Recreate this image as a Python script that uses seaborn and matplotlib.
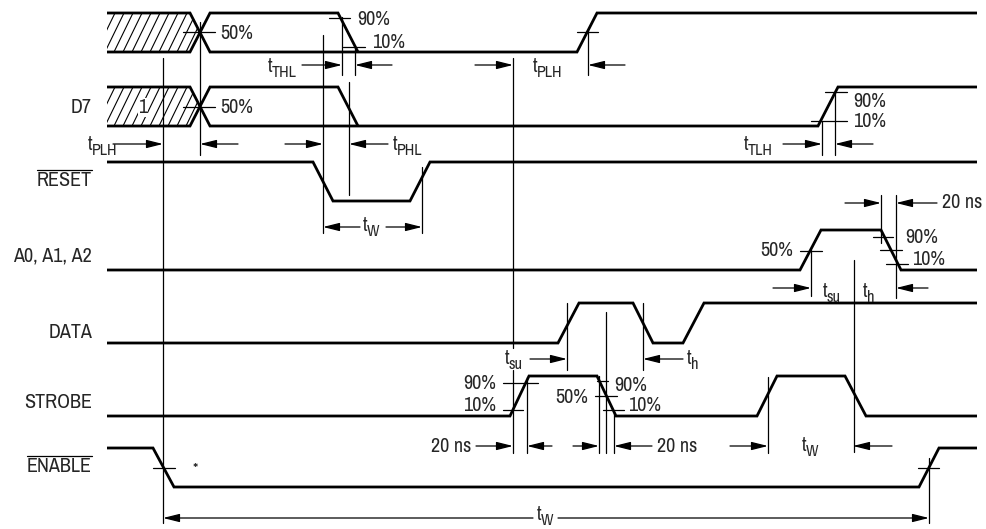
import numpy as np
import matplotlib
matplotlib.use("Agg")
import matplotlib.pyplot as plt
from matplotlib import font_manager
from matplotlib.patches import Polygon
import seaborn as sns

# waveform break points, x / y in sheet pixels (y grows downwards)
row1_a_x = [107, 190, 210, 577, 597, 977]
row1_a_y = [13, 13, 52, 52, 13, 13]
row1_b_x = [107, 190, 210, 338, 358]
row1_b_y = [52, 52, 13, 13, 52]
d7_a_x = [107, 190, 210, 818, 838, 977]
d7_a_y = [87, 87, 126, 126, 87, 87]
d7_b_x = [107, 190, 210, 338, 358]
d7_b_y = [126, 126, 87, 87, 126]
reset_x = [107, 313, 333, 410, 430, 977]
reset_y = [162, 162, 201, 201, 162, 162]
addr_x = [107, 800, 821, 881, 901, 977]
addr_y = [270, 270, 230, 230, 270, 270]
data_x = [107, 558, 579, 633, 653, 683, 704, 977]
data_y = [343, 343, 303, 303, 343, 343, 303, 303]
strobe_x = [107, 510, 529, 597, 616, 757, 777, 845, 866, 977]
strobe_y = [416, 416, 376, 376, 416, 416, 376, 376, 416, 416]
enable_x = [107, 153, 174, 919, 939, 977]
enable_y = [448, 448, 487, 487, 448, 448]

# signal names on the left
signal_labels = ["D7", "RESET", "A0, A1, A2", "DATA", "STROBE", "ENABLE"]
signal_base = [113, 186, 261, 338, 408, 472]
overlined = {"RESET": 170, "ENABLE": 456}

# don't-care (hatched) zones: top, bottom
hatch_top = [13, 87]
hatch_bot = [52, 126]

# thin vertical reference lines
guide_x = [163, 200, 323, 342, 355, 349, 422, 513, 588, 822, 835, 811,
           854, 881, 896, 567, 606, 643, 513, 527, 599, 614, 768, 929]
guide_y0 = [58, 22, 35, 17, 47, 82, 167, 58, 30, 121, 92, 250,
            260, 195, 195, 303, 312, 303, 370, 377, 376, 412, 377, 458]
guide_y1 = [523, 155, 233, 75, 75, 195, 233, 348, 75, 155, 155, 296,
            452, 243, 298, 370, 453, 370, 453, 453, 453, 453, 453, 523]

# level ticks (50%, 90%, 10%) on the edges
tick_y = [32, 107, 18, 47, 32, 92, 121, 251, 237, 250, 264,
          383, 410, 381, 396, 410, 468, 468]
tick_x0 = [183, 183, 329, 343, 577, 825, 811, 800, 873, 880, 886,
           503, 503, 597, 595, 603, 153, 918]
tick_x1 = [215, 215, 350, 365, 598, 847, 847, 822, 893, 902, 908,
           538, 523, 608, 617, 624, 175, 939]

# dimension arrows: tail, tip, row
arrow_tail = [302, 392, 475, 625, 113, 238, 285, 388, 783, 873, 360, 386,
              845, 937, 773, 928, 530, 683, 476, 552, 573, 652, 730, 892, 533, 558]
arrow_tip = [342, 355, 513, 588, 163, 200, 323, 349, 822, 835, 323, 422,
             881, 896, 811, 896, 567, 643, 513, 527, 599, 614, 768, 853, 163, 929]
arrow_y = [65, 65, 65, 65, 144, 144, 144, 144, 144, 144, 227, 227,
           203, 203, 288, 288, 359, 359, 446, 446, 446, 446, 446, 446, 518, 518]

# level / delay texts: text, x, baseline, alignment
note_text = ["50%", "50%", "90%", "10%", "90%", "10%", "20 ns", "90%", "10%", "50%",
             "90%", "10%", "50%", "90%", "10%", "20 ns", "20 ns", "*"]
note_x = [220, 220, 357, 372, 853, 853, 942, 905, 912, 793,
          496, 496, 588, 614, 628, 471, 657, 193]
note_y = [39, 113, 25, 48, 107, 127, 208, 243, 265, 256,
          389, 411, 403, 391, 411, 452, 452, 474]
note_ha = ["left", "left", "left", "left", "left", "left", "left", "left", "left", "right",
           "right", "right", "right", "left", "left", "right", "left", "left"]

# timing symbols t<sub>: subscript, left x of "t", baseline
tsym_sub = ["THL", "PLH", "PLH", "PHL", "TLH", "W", "su", "h", "su", "h", "W", "W"]
tsym_x = [268, 533, 88, 393, 744, 363, 823, 863, 505, 687, 802, 537]
tsym_y = [72, 72, 150, 150, 150, 231, 297, 297, 364, 364, 451, 520]

sns.set_theme(style="white")
installed = sorted({f.name for f in font_manager.fontManager.ttflist})
narrow = [n for n in installed if "Narrow" in n or "Condensed" in n]
if narrow:
    family, FS = narrow[0], 14.5
elif "Liberation Sans" in installed:
    family, FS = "Liberation Sans", 12.5
else:
    family, FS = "DejaVu Sans", 12
plt.rcParams["font.family"] = [family, "DejaVu Sans"]

fig = plt.figure(figsize=(9.87, 5.29), dpi=100)
ax = fig.add_axes([0, 0, 1, 1])
ax.set_xlim(0, 987)
ax.set_ylim(529, 0)
ax.axis("off")

THIN = 0.9
THICK = 2.0

waves = [(row1_a_x, row1_a_y), (row1_b_x, row1_b_y), (d7_a_x, d7_a_y), (d7_b_x, d7_b_y),
         (reset_x, reset_y), (addr_x, addr_y), (data_x, data_y), (strobe_x, strobe_y),
         (enable_x, enable_y)]
for wx, wy in waves:
    sns.lineplot(x=wx, y=wy, sort=False, estimator=None, color="black", lw=THICK, ax=ax,
                 solid_joinstyle="miter", solid_capstyle="butt", zorder=3)

# hatched don't-care regions
for top, bot in zip(hatch_top, hatch_bot):
    mid = (top + bot) / 2
    poly = Polygon([(107, top), (190, top), (200, mid), (190, bot), (107, bot)],
                   closed=True, facecolor="white", edgecolor="none", zorder=1)
    ax.add_patch(poly)
    for b in np.arange(96, 205, 9):
        ln, = ax.plot([b, b + 19], [bot, top], color="black", lw=0.8, zorder=2)
        ln.set_clip_path(poly)
ax.text(143, 113, "1", fontsize=FS, ha="center", va="baseline", zorder=4,
        bbox=dict(facecolor="white", edgecolor="none", pad=0.3))

for x, y0, y1 in zip(guide_x, guide_y0, guide_y1):
    ax.plot([x, x], [y0, y1], color="black", lw=THIN, zorder=2)

for y, x0, x1 in zip(tick_y, tick_x0, tick_x1):
    ax.plot([x0, x1], [y, y], color="black", lw=THIN, zorder=2)

for tail, tip, y in zip(arrow_tail, arrow_tip, arrow_y):
    ax.annotate("", xy=(tip, y), xytext=(tail, y),
                arrowprops=dict(arrowstyle="-|>,head_length=1.0,head_width=0.25",
                                mutation_scale=10, lw=THIN, color="black",
                                shrinkA=0, shrinkB=0))

for t, x, y, ha in zip(note_text, note_x, note_y, note_ha):
    ax.text(x, y, t, fontsize=FS if t != "*" else 12, ha=ha, va="baseline", zorder=4)

# t with subscript, the subscript hangs off the right edge of the "t"
for sub, x, y in zip(tsym_sub, tsym_x, tsym_y):
    t_obj = ax.text(x, y, "t", fontsize=FS, ha="left", va="baseline", zorder=4)
    ax.annotate(sub, xy=(1, y + 5), xycoords=(t_obj, "data"), xytext=(-0.8, 0),
                textcoords="offset points", fontsize=FS * 0.8, ha="left",
                va="baseline", zorder=4)

label_objs = []
for name, y in zip(signal_labels, signal_base):
    label_objs.append(ax.text(92, y, name, fontsize=FS, ha="right", va="baseline"))

fig.canvas.draw()
inv = ax.transData.inverted()
for obj in label_objs:
    name = obj.get_text()
    if name in overlined:
        bb = obj.get_window_extent()
        (xa, _), (xb, _) = inv.transform([(bb.x0, bb.y0), (bb.x1, bb.y1)])
        ax.plot([xa, xb], [overlined[name]] * 2, color="black", lw=THIN)

fig.savefig("out.png", dpi=100)
